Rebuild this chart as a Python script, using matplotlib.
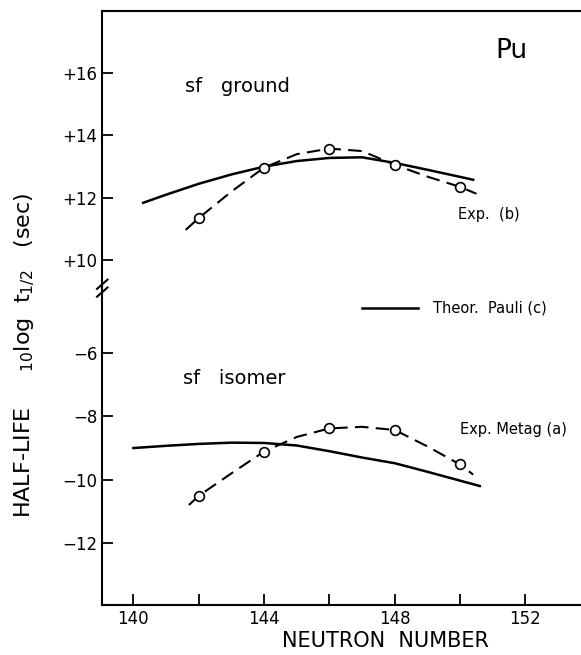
import matplotlib
matplotlib.use("Agg")
import matplotlib.pyplot as plt

# neutron numbers of the measured points
n_exp = [142, 144, 146, 148, 150]

# sf ground state, experiment (b) points and dashed guide curve
ground_exp = [11.35, 12.97, 13.58, 13.06, 12.35]
ground_dash_n = [141.6, 142, 143, 144, 145, 146, 147, 148, 149, 150, 150.5]
ground_dash_v = [10.97, 11.35, 12.2, 12.97, 13.4, 13.58, 13.5, 13.06, 12.68, 12.35, 12.13]

# sf ground state, theory Pauli (c)
ground_th_n = [140.3, 141, 142, 143, 144, 145, 146, 147, 148, 149, 150.4]
ground_th_v = [11.84, 12.1, 12.45, 12.75, 13.0, 13.18, 13.28, 13.3, 13.12, 12.9, 12.58]

# sf isomer, experiment Metag (a)
iso_exp = [-10.51, -9.11, -8.38, -8.43, -9.52]
iso_dash_n = [141.7, 142, 143, 144, 145, 146, 147, 148, 149, 150, 150.4]
iso_dash_v = [-10.8, -10.51, -9.8, -9.11, -8.65, -8.38, -8.33, -8.43, -8.95, -9.52, -9.84]

# sf isomer, theory
iso_th_n = [140, 141, 142, 143, 144, 145, 146, 147, 148, 149, 150.6]
iso_th_v = [-9.0, -8.93, -8.87, -8.83, -8.84, -8.92, -9.1, -9.3, -9.48, -9.75, -10.2]

upper_ticks = [10, 12, 14, 16]
lower_ticks = [-12, -10, -8, -6]
x_ticks = [140, 142, 144, 146, 148, 150, 152]

fig = plt.figure(figsize=(5.81, 6.55), dpi=100)
ax_up = fig.add_axes([0.1756, 0.560, 0.8244, 0.423])
ax_lo = fig.add_axes([0.1756, 0.0763, 0.8244, 0.4837])

dash = (0, (6.5, 3.5))
for ax in (ax_up, ax_lo):
    ax.set_xlim(139.04, 153.7)
    ax.spines["right"].set_visible(False)
    for s in ax.spines.values():
        s.set_linewidth(1.5)
    ax.tick_params(direction="in", length=8, width=1.3, labelsize=12)

ax_up.spines["bottom"].set_visible(False)
ax_lo.spines["top"].set_visible(False)
ax_up.set_xticks([])
ax_up.set_ylim(9.10, 17.99)
ax_up.set_yticks(upper_ticks)
ax_up.set_yticklabels(["+%d" % t for t in upper_ticks])

ax_lo.set_ylim(-13.96, -3.95)
ax_lo.set_yticks(lower_ticks)
ax_lo.set_yticklabels(["\u2212%d" % abs(t) for t in lower_ticks])
ax_lo.set_xticks(x_ticks)
ax_lo.set_xticklabels(["140", "", "144", "", "148", "", "152"])

# upper panel: ground state
ax_up.plot(ground_th_n, ground_th_v, color="black", lw=1.8)
ax_up.plot(ground_dash_n, ground_dash_v, color="black", lw=1.5, linestyle=dash)
ax_up.plot(n_exp, ground_exp, "o", mfc="white", mec="black", mew=1.2, ms=7)

# lower panel: isomer
ax_lo.plot(iso_th_n, iso_th_v, color="black", lw=1.8)
ax_lo.plot(iso_dash_n, iso_dash_v, color="black", lw=1.5, linestyle=dash)
ax_lo.plot(n_exp, iso_exp, "o", mfc="white", mec="black", mew=1.2, ms=7)

# texts
ax_up.text(151.08, 16.5, "Pu", fontsize=19, va="baseline")
ax_up.text(141.58, 15.4, "sf   ground", fontsize=14, va="baseline")
ax_up.text(149.93, 11.33, "Exp.  (b)", fontsize=10.5, va="baseline")
ax_lo.text(141.52, -6.98, "sf   isomer", fontsize=14, va="baseline")
ax_lo.text(150.0, -8.4, "Exp. Metag (a)", fontsize=10.5, va="center")
ax_lo.plot([147.0, 148.7], [-4.58, -4.58], color="black", lw=1.8)
ax_lo.text(149.17, -4.58, "Theor.  Pauli (c)", fontsize=10.5, va="center")

# axis break marks
for dy in (-0.006, 0.006):
    fig.add_artist(plt.Line2D([0.167, 0.185], [0.553 + dy, 0.567 + dy],
                              color="black", lw=1.5))

fig.text(0.664, 0.021, "NEUTRON  NUMBER", fontsize=15, ha="center", va="center")
fig.text(0.042, 0.458, r"HALF-LIFE     $_{10}$log  t$_{1/2}$   (sec)",
         fontsize=16, rotation=90, ha="center", va="center")

fig.savefig("out.png", dpi=100)
